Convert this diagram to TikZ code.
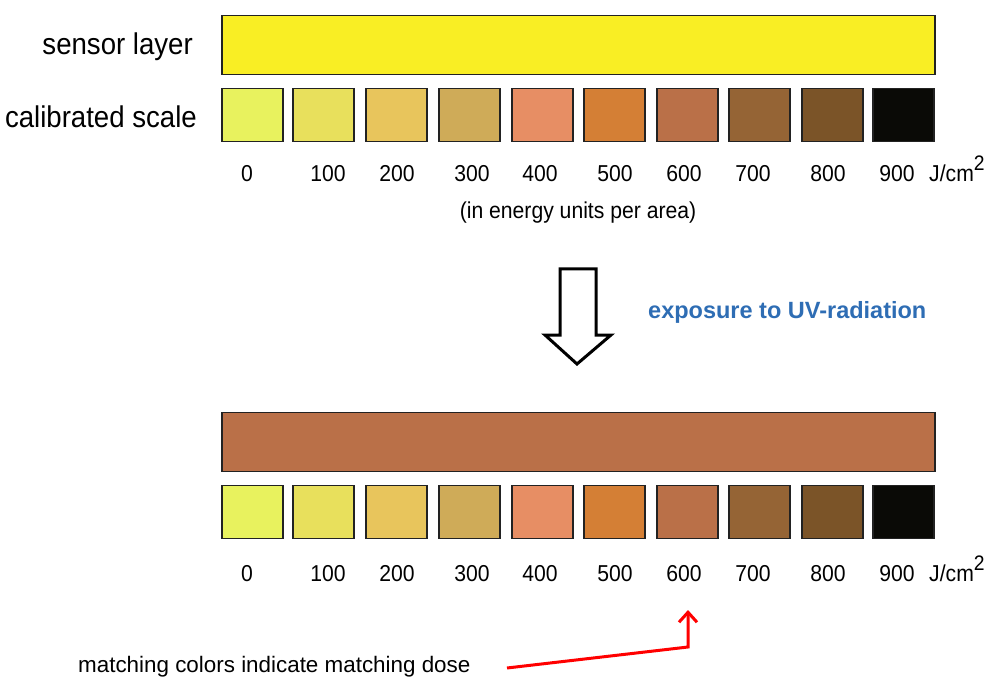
\documentclass[tikz,border=0pt]{standalone}
\usepackage{fontspec}
\setmainfont{Liberation Sans}
\newfontfamily\nar[FakeStretch=0.92]{Liberation Sans}
\usetikzlibrary{arrows.meta}
\definecolor{sensorY}{HTML}{F9EE24}
\definecolor{exposed}{HTML}{BA7048}
\definecolor{c0}{HTML}{E8F25E}
\definecolor{c1}{HTML}{E8E05C}
\definecolor{c2}{HTML}{E8C55C}
\definecolor{c3}{HTML}{CFAB58}
\definecolor{c4}{HTML}{E78E64}
\definecolor{c5}{HTML}{D47F35}
\definecolor{c6}{HTML}{BA7048}
\definecolor{c7}{HTML}{956435}
\definecolor{c8}{HTML}{7B5428}
\definecolor{c9}{HTML}{0A0A06}
\definecolor{uvblue}{HTML}{2E6DB4}
\definecolor{edge}{HTML}{222222}
\begin{document}
\begin{tikzpicture}[x=1pt,y=-1pt,
  bar/.style={draw=edge, line width=1.5pt, minimum width=713pt, minimum height=59pt, inner sep=0pt},
  sq/.style={draw=edge, line width=1.5pt, minimum width=61pt, minimum height=53pt, inner sep=0pt},
  lab/.style={font=\nar\fontsize{23}{23}\selectfont, inner sep=0pt, anchor=base},
  biglab/.style={font=\nar\fontsize{30}{30}\selectfont, inner sep=0pt, anchor=base east},
  uvtext/.style={font=\bfseries\fontsize{23.5}{23.5}\selectfont, text=uvblue, inner sep=0pt, anchor=base west},
  note/.style={font=\fontsize{22.4}{22.4}\selectfont, inner sep=0pt, anchor=base west},
  redarrow/.style={draw=red, line width=3pt, -{Straight Barb[length=10pt,width=18pt,line width=3pt]}}
]
\useasboundingbox (0,0) rectangle (1000,684);

% top section
\node[biglab] (sensorlab) at (193,55) {sensor layer};
\node[biglab] (calilab) at (197,128) {calibrated scale};
\node[bar, fill=sensorY] (topbar) at (578.5,45) {};

\foreach \i/\x in {0/252.5,1/323.5,2/396.5,3/469.5,4/542.5,5/614.5,6/687.5,7/759.5,8/832.5,9/903.5}{
  \node[sq, fill=c\i] (ts\i) at (\x,115) {};
  \node[sq, fill=c\i] (bs\i) at (\x,512) {};
}
\foreach \v/\x in {0/247,100/328,200/397,300/472,400/540,500/615,600/684,700/753,800/828,900/897}{
  \node[lab] (tl\v) at (\x,182) {\v};
  \node[lab] (bl\v) at (\x,581) {\v};
}
\node[lab, anchor=base west] (tunit) at (929,182) {J/cm\raisebox{11pt}{\fontsize{21}{21}\selectfont 2}};
\node[lab, anchor=base west] (bunit) at (929,581) {J/cm\raisebox{11pt}{\fontsize{21}{21}\selectfont 2}};
\node[lab] (perarea) at (578,219) {(in energy units per area)};

% exposure arrow
\draw[line width=3pt, line join=miter, fill=white]
  (560,269) -- (596,269) -- (596,335) -- (611,335) -- (577,364) -- (545,335) -- (560,335) -- cycle;
\node[uvtext] (uv) at (648,318) {exposure to UV-radiation};

% bottom section
\node[bar, fill=exposed] (botbar) at (578.5,442) {};

% note and red arrow
\node[note] (notetext) at (78,672) {matching colors indicate matching dose};
\coordinate (rstart) at (507,668);
\coordinate (rbend) at (688,647);
\coordinate (rtip) at (688,610);
\draw[redarrow] (rstart) -- (rbend) -- (rtip);
\end{tikzpicture}
\end{document}
